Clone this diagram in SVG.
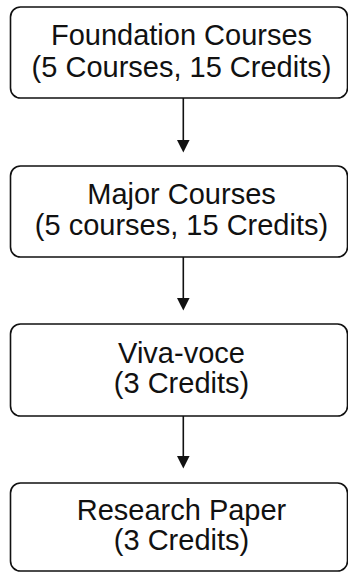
<svg xmlns="http://www.w3.org/2000/svg" width="348" height="572" viewBox="0 0 348 572">
<style>
.box{fill:#fff;stroke:#111;stroke-width:1.6}
.t{font-family:"Liberation Sans",Arial,sans-serif;font-size:29px;fill:#111;text-anchor:middle}
.c{stroke:#111;stroke-width:1.6;fill:none}
.h{fill:#111}
</style>
<rect width="348" height="572" fill="#fff"/>
<g id="n1"><rect class="box" x="10.5" y="7" width="337" height="91" rx="10"/>
<text class="t" x="181.5" y="45">Foundation Courses</text>
<text class="t" x="181.5" y="77">(5 Courses, 15 Credits)</text></g>
<g id="n2"><rect class="box" x="10.5" y="166" width="337" height="91" rx="10"/>
<text class="t" x="181.5" y="204">Major Courses</text>
<text class="t" x="181.5" y="235">(5 courses, 15 Credits)</text></g>
<g id="n3"><rect class="box" x="10.5" y="324" width="337" height="92" rx="10"/>
<text class="t" x="181.5" y="363">Viva-voce</text>
<text class="t" x="181.5" y="393">(3 Credits)</text></g>
<g id="n4"><rect class="box" x="10.5" y="483" width="337" height="88" rx="10"/>
<text class="t" x="181.5" y="520">Research Paper</text>
<text class="t" x="181.5" y="550">(3 Credits)</text></g>
<g id="connectors">
<line class="c" x1="183.3" y1="98" x2="183.3" y2="142"/><polygon class="h" points="177,140 189.6,140 183.3,152.5"/>
<line class="c" x1="183.3" y1="257" x2="183.3" y2="300"/><polygon class="h" points="177,298 189.6,298 183.3,310.5"/>
<line class="c" x1="183.3" y1="416" x2="183.3" y2="458"/><polygon class="h" points="177,456 189.6,456 183.3,468.5"/>
</g>
</svg>
